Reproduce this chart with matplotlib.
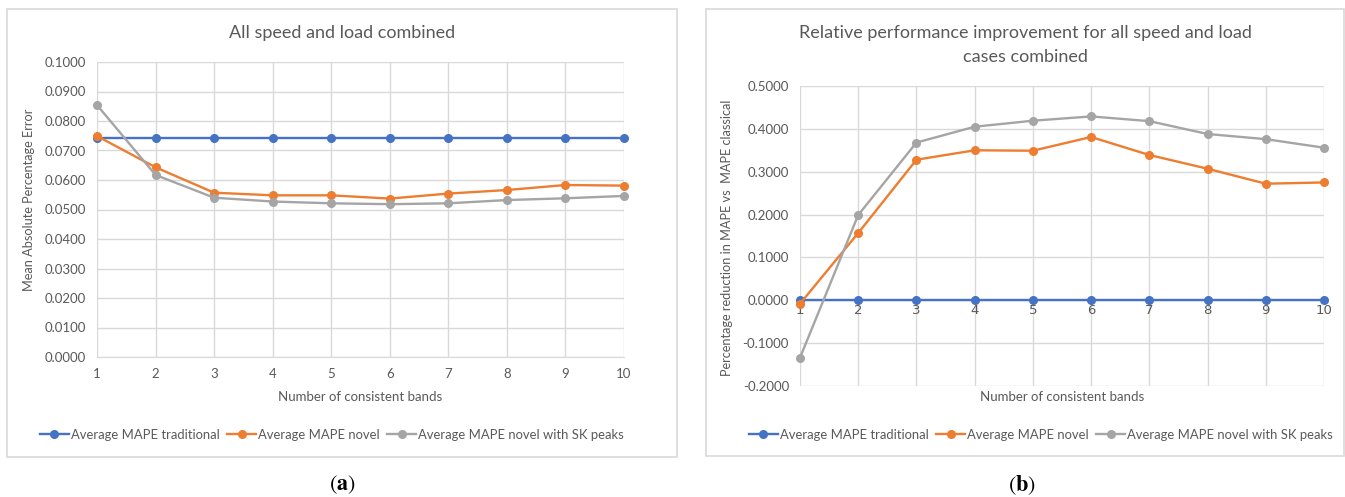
import numpy as np
import matplotlib.pyplot as plt
from matplotlib.patches import Rectangle

# Number of consistent bands
bands = [1, 2, 3, 4, 5, 6, 7, 8, 9, 10]

# (a) mean absolute percentage error
mape_traditional = [0.0742] * 10
mape_novel = [0.0749, 0.0643, 0.0557, 0.0548, 0.0548, 0.0537, 0.0554, 0.0566, 0.0583, 0.0581]
mape_novel_sk = [0.0854, 0.0617, 0.0540, 0.0527, 0.0521, 0.0518, 0.0521, 0.0532, 0.0538, 0.0546]

# (b) relative reduction in MAPE vs classical
rel_traditional = [0.0] * 10
rel_novel = [-0.008, 0.157, 0.328, 0.350, 0.349, 0.381, 0.339, 0.307, 0.272, 0.275]
rel_novel_sk = [-0.134, 0.199, 0.368, 0.405, 0.419, 0.429, 0.418, 0.388, 0.376, 0.356]

series_names = ['Average MAPE traditional', 'Average MAPE novel',
                'Average MAPE novel with SK peaks']
colors = ['#4472C4', '#ED7D31', '#A5A5A5']

W, H = 1345, 497
TXT = '#595959'
GRID = '#D9D9D9'
FONT = 'Lato'

fig = plt.figure(figsize=(W / 100, H / 100), dpi=100)


def px_box(x0, y0, x1, y1):
    # pixel box (top-left origin) -> figure fraction rect
    return [x0 / W, 1 - y1 / H, (x1 - x0) / W, (y1 - y0) / H]


def panel(x0, y0, x1, y1):
    fig.patches.append(Rectangle((x0 / W, 1 - y1 / H), (x1 - x0) / W, (y1 - y0) / H,
                                 transform=fig.transFigure, fill=False,
                                 edgecolor=GRID, lw=1.2))


def draw(ax, ys, ylim, ystep):
    for y, c, name in zip(ys, colors, series_names):
        ax.plot(bands, y, color=c, lw=1.7, marker='o', ms=5.5, label=name,
                clip_on=False, zorder=3)
    ax.set_xlim(1, 10)
    ax.set_ylim(*ylim)
    ax.set_xticks(bands)
    ax.set_yticks(np.arange(ylim[0], ylim[1] + ystep / 2, ystep))
    ax.yaxis.set_major_formatter(lambda v, p: f'{v:.4f}')
    ax.grid(True, color=GRID, lw=1.0)
    ax.set_axisbelow(True)
    for s in ax.spines.values():
        s.set_visible(False)
    ax.spines['bottom'].set_visible(True)
    ax.spines['bottom'].set_color(GRID)
    ax.tick_params(length=0, colors=TXT, labelsize=9.5, pad=8)
    for lab in ax.get_xticklabels() + ax.get_yticklabels():
        lab.set_fontfamily(FONT)


def legend(ax, xc):
    ax.legend(loc='center', bbox_to_anchor=(xc / W, 1 - 435 / H),
              bbox_transform=fig.transFigure, ncol=3, frameon=False,
              prop={'family': FONT, 'size': 9.4}, labelcolor=TXT,
              handlelength=2.2, handletextpad=0.15, columnspacing=0.6)


# (a)
panel(7, 9, 677, 457)
ax1 = fig.add_axes(px_box(97, 62, 624, 357))
draw(ax1, [mape_traditional, mape_novel, mape_novel_sk], (0.0, 0.1), 0.01)
ax1.set_xlabel('Number of consistent bands', fontfamily=FONT, fontsize=9.5,
               color=TXT, labelpad=8)
ax1.set_ylabel('Mean Absolute Percentage Error', fontfamily=FONT, fontsize=9.2,
               color=TXT)
ax1.yaxis.set_label_coords(-0.118, 0.532)
fig.text(342 / W, 1 - 33 / H, 'All speed and load combined', ha='center',
         va='center', fontfamily=FONT, fontsize=13, color=TXT)
legend(ax1, 332)

# (b)
panel(706, 9, 1344, 456)
ax2 = fig.add_axes(px_box(800, 86, 1324, 386))
draw(ax2, [rel_traditional, rel_novel, rel_novel_sk], (-0.2, 0.5), 0.1)
ax2.spines['bottom'].set_position(('data', 0))
ax2.tick_params(axis='x', pad=3)
fig.text(1062 / W, 1 - 397 / H, 'Number of consistent bands', ha='center',
         va='center', fontfamily=FONT, fontsize=9.5, color=TXT)
ax2.set_ylabel('Percentage reduction in MAPE vs  MAPE classical', fontfamily=FONT,
               fontsize=9.2, color=TXT)
ax2.yaxis.set_label_coords(-0.128, 0.493)
fig.text(1025 / W, 1 - 45 / H,
         'Relative performance improvement for all speed and load\ncases combined',
         ha='center', va='center', fontfamily=FONT, fontsize=13, color=TXT,
         linespacing=1.55)
legend(ax2, 1041)

plt.rcParams['mathtext.fontset'] = 'stix'
fig.text(342 / W, 1 - 485 / H, r'($\mathbf{a}$)', ha='center', va='center',
         fontfamily='STIXGeneral', fontsize=16, color='black')
fig.text(1022 / W, 1 - 485 / H, r'($\mathbf{b}$)', ha='center', va='center',
         fontfamily='STIXGeneral', fontsize=16, color='black')

fig.savefig('out.png', dpi=100, facecolor='white')
